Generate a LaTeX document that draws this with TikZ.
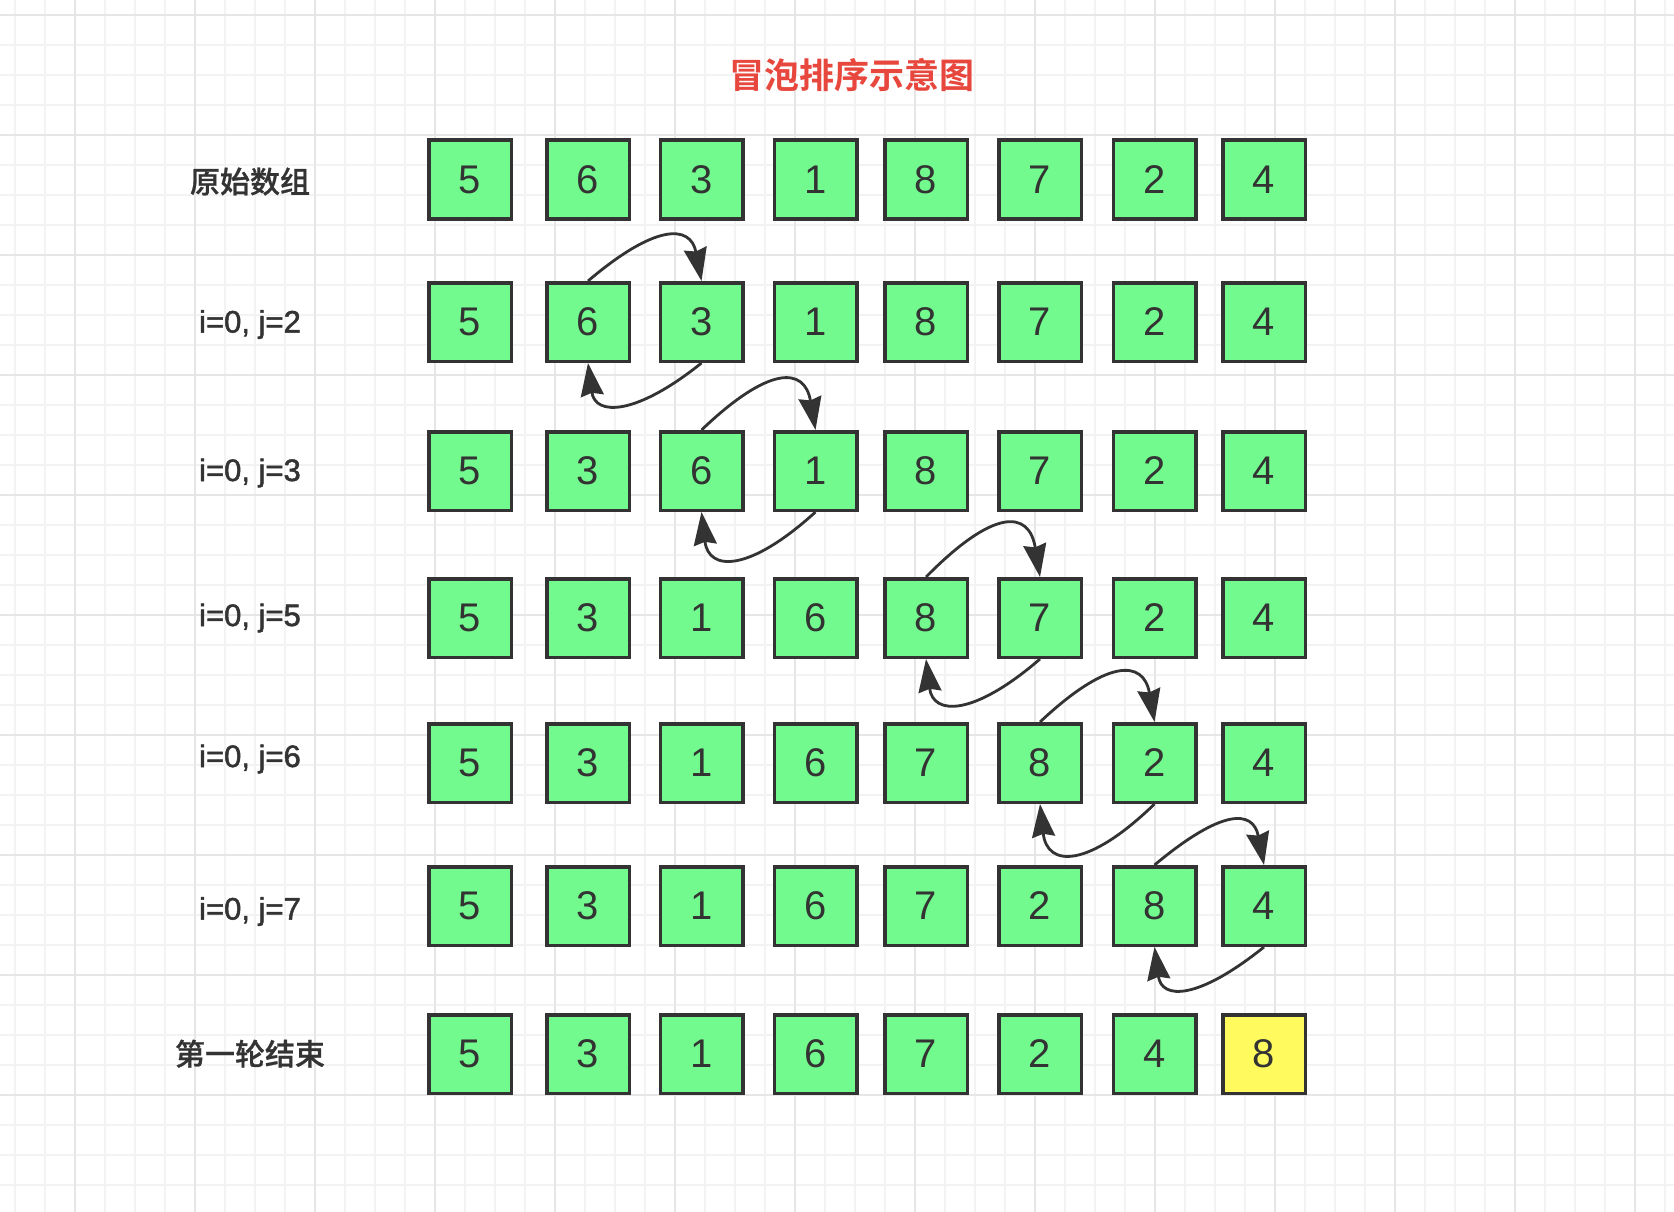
\documentclass[tikz,border=0pt]{standalone}
\usepackage{fontspec}
\setmainfont{Liberation Sans}
\newfontfamily\cjk{Noto Sans CJK SC}[UprightFont={* Medium},BoldFont={* Bold}]
\newfontfamily\cjklbl{Noto Sans CJK SC}[UprightFont={* Medium},FakeBold=0.8]
\newfontfamily\latlbl{Liberation Sans}[FakeBold=1.6]
\usetikzlibrary{arrows.meta}
\definecolor{ink}{HTML}{333333}
\definecolor{boxg}{HTML}{72FA8E}
\definecolor{boxy}{HTML}{FFFA5E}
\definecolor{titlered}{HTML}{E8473D}
\definecolor{gridminor}{HTML}{F3F3F3}
\definecolor{gridmajor}{HTML}{E6E6E6}
\newcommand\swappair[5]{%
  \draw[swaparrow] (b-#1-#2.north) .. controls +(67,-#4) and +(-11,-#4) .. (b-#1-#3.north);
  \draw[swaparrow] (b-#1-#3.south) .. controls +(-66,#5) and +(7,#5) .. (b-#1-#2.south);
}
\begin{document}
\begin{tikzpicture}[x=1pt,y=-1pt,
  cell/.style={draw=ink, line width=3.5pt, minimum width=82.5pt, minimum height=78.5pt,
    inner sep=0pt, text=ink, font=\fontsize{40}{48}\selectfont},
  lbl/.style={text=ink, font=\cjklbl\fontsize{30}{36}\selectfont},
  lbllat/.style={text=ink, font=\latlbl\fontsize{31}{36}\selectfont},
  swaparrow/.style={draw=ink, line width=2.8pt, -{Stealth[length=33pt,width=23pt,inset=3pt]}}]
\useasboundingbox (0,0) rectangle (1674,1212);
\fill[white] (0,0) rectangle (1674,1212);
% grid
\foreach \i in {0,...,55} \draw[gridminor, line width=1.5pt] ({15+30*\i},0) -- ({15+30*\i},1212);
\foreach \i in {0,...,39} \draw[gridminor, line width=1.5pt] (0,{15+30*\i}) -- (1674,{15+30*\i});
\foreach \i in {0,...,13} \draw[gridmajor, line width=1.5pt] ({75+120*\i},0) -- ({75+120*\i},1212);
\foreach \i in {0,...,9} \draw[gridmajor, line width=1.5pt] (0,{15+120*\i}) -- (1674,{15+120*\i});
% title
\node[font=\cjk\bfseries\fontsize{35}{42}\selectfont, text=titlered] (title) at (852,75) {冒泡排序示意图};
% labels
\node[lbl] (l1) at (250,181.5) {原始数组};
\node[lbllat] (l2) at (250,324.5) {i=0, j=2};
\node[lbllat] (l3) at (250,473) {i=0, j=3};
\node[lbllat] (l4) at (250,618) {i=0, j=5};
\node[lbllat] (l5) at (250,759) {i=0, j=6};
\node[lbllat] (l6) at (250,911.5) {i=0, j=7};
\node[lbl] (l7) at (250,1053.7) {第一轮结束};
% boxes
\foreach \r/\y/\vals in {1/179.5/{5,6,3,1,8,7,2,4}, 2/322/{5,6,3,1,8,7,2,4},
    3/471/{5,3,6,1,8,7,2,4}, 4/618/{5,3,1,6,8,7,2,4}, 5/763/{5,3,1,6,7,8,2,4},
    6/906/{5,3,1,6,7,2,8,4}, 7/1054/{5,3,1,6,7,2,4,8}} {
  \foreach \v [count=\c] in \vals {
    \pgfmathsetmacro\xx{{470,588,701.5,815.5,926,1040,1154.5,1264}[\c-1]}
    \def\fillc{boxg}\ifnum\r\c=78 \def\fillc{boxy}\fi
    \node[cell, fill=\fillc] (b-\r-\c) at (\xx,\y) {\v};
  }
}
% swaps
\swappair{2}{2}{3}{57}{53}
\swappair{3}{3}{4}{64}{60}
\swappair{4}{5}{6}{68}{57}
\swappair{5}{6}{7}{63}{64}
\swappair{6}{7}{8}{56}{53}
\end{tikzpicture}
\end{document}
